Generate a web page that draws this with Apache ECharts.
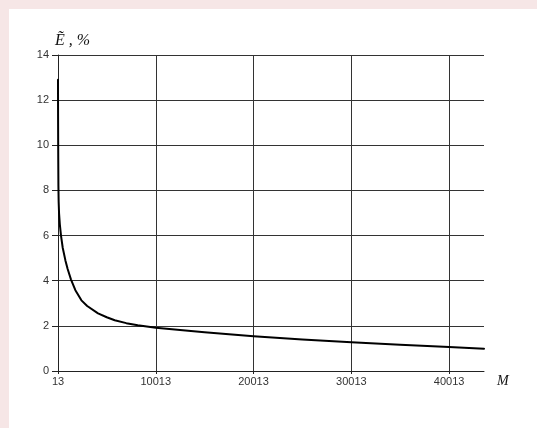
<!DOCTYPE html>
<html>
<head>
<meta charset="utf-8">
<script src="https://cdn.jsdelivr.net/npm/echarts@6/dist/echarts.min.js"></script>
<style>
html,body{margin:0;padding:0;background:#f6e6e6;width:537px;height:428px;overflow:hidden;}
#card{position:absolute;left:9px;top:9px;right:0;bottom:0;background:#fff;}
#chart{position:absolute;left:0;top:0;width:537px;height:428px;}
</style>
</head>
<body>
<div id="card"></div>
<div id="chart"></div>
<script>
// Data
const mValues = [13, 15, 20, 30, 40, 55, 80, 120, 200, 320, 500, 770, 1000, 1345, 1790, 2408, 3000, 4107, 5000, 5816, 7000, 8170, 10013, 12500, 15000, 17500, 20013, 25000, 30013, 35000, 40013, 43583];
const eValues = [12.9, 12.3, 11.4, 10.2, 9.3, 8.2, 7.5, 7.0, 6.5, 6.0, 5.45, 4.9, 4.52, 4.05, 3.58, 3.13, 2.88, 2.55, 2.38, 2.25, 2.12, 2.03, 1.92, 1.82, 1.72, 1.63, 1.54, 1.40, 1.27, 1.16, 1.06, 0.99];
const xTicks = [13, 10013, 20013, 30013, 40013];
const yTicks = [0, 2, 4, 6, 8, 10, 12, 14];
const yTitle = 'Ẽ , %';
const xTitle = 'M';

const chart = echarts.init(document.getElementById('chart'), null, {renderer: 'canvas'});
const labelFont = {fontFamily: 'Liberation Sans, Arial, sans-serif', fontSize: 11, color: '#333'};
chart.setOption({
  backgroundColor: 'transparent',
  animation: false,
  grid: {left: 58, right: 53, top: 55, bottom: 57},
  xAxis: {
    type: 'value',
    min: xTicks[0],
    max: mValues[mValues.length - 1],
    interval: xTicks[1] - xTicks[0],
    axisLine: {show: true, onZero: false, lineStyle: {color: '#222', width: 1}},
    axisTick: {show: true, length: 3, customValues: xTicks, lineStyle: {color: '#222'}},
    axisLabel: Object.assign({margin: 5, customValues: xTicks, formatter: v => String(v)}, labelFont),
    splitLine: {show: true, showMinLine: false, lineStyle: {color: '#333', width: 1}}
  },
  yAxis: {
    type: 'value',
    min: yTicks[0],
    max: yTicks[yTicks.length - 1],
    interval: yTicks[1] - yTicks[0],
    axisLine: {show: true, lineStyle: {color: '#222', width: 1}},
    axisTick: {show: true, length: 6, lineStyle: {color: '#222'}},
    axisLabel: Object.assign({margin: 9}, labelFont),
    splitLine: {show: true, lineStyle: {color: '#333', width: 1}}
  },
  graphic: [
    {type: 'text', left: 55, top: 33, style: {text: yTitle, font: 'italic 16px "Liberation Serif", serif', fill: '#111'}},
    {type: 'text', left: 497, top: 374, style: {text: xTitle, font: 'italic 14px "Liberation Serif", serif', fill: '#111'}}
  ],
  series: [{
    type: 'line',
    data: mValues.map((m, i) => [m, eValues[i]]),
    showSymbol: false,
    smooth: false,
    lineStyle: {color: '#000', width: 2, join: 'round', cap: 'round'},
    clip: true
  }]
});
</script>
</body>
</html>
